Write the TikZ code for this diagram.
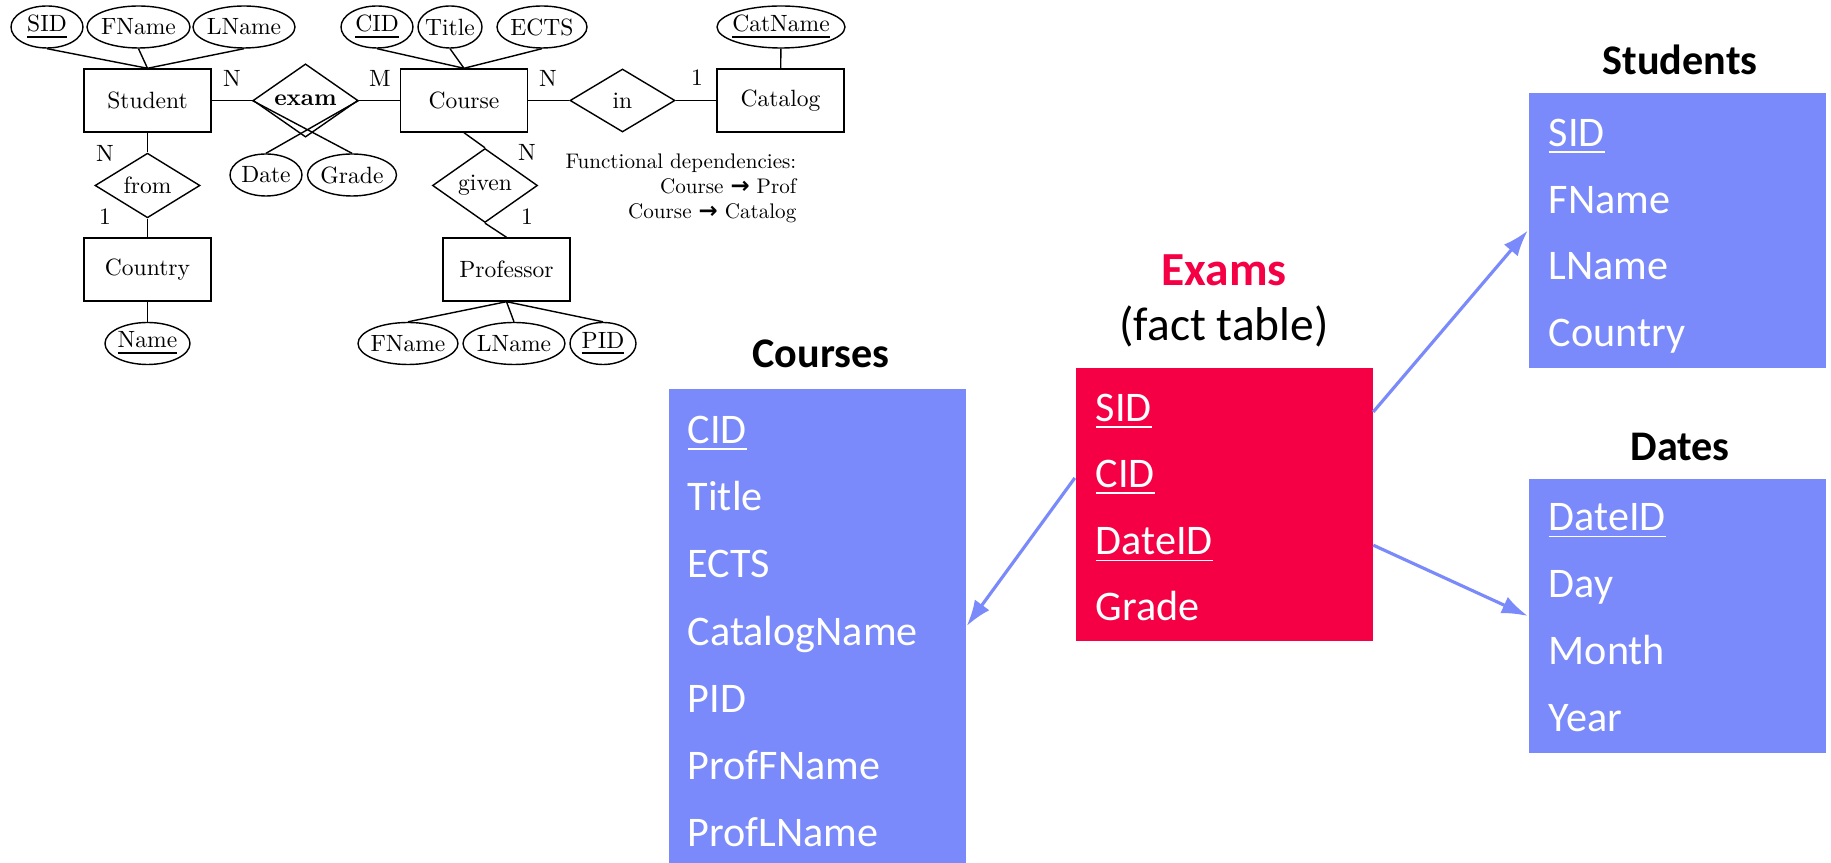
\documentclass[tikz,border=0pt]{standalone}
\usepackage{fontspec}
\usetikzlibrary{shapes.geometric,arrows.meta}
\setmainfont{lmroman10}[Extension=.otf, UprightFont=*-regular, BoldFont=*-bold, ItalicFont=*-italic]
\newfontfamily\carlito{Carlito}
\newfontfamily\dejavu{DejaVu Sans}
\definecolor{dimblue}{RGB}{122,138,250}
\definecolor{factred}{RGB}{245,0,68}
\newcommand{\fdarrow}{{\dejavu\bfseries\fontsize{6.5}{7}\selectfont →}}
\newcommand{\attrtext}[1]{\makebox[0pt]{#1}}
\tikzset{
  er/.style={font=\fontsize{6.7}{8}\selectfont},
  entity/.style={er, draw, rectangle, minimum width=12.7mm, minimum height=6.3mm, inner sep=0pt},
  relship/.style={er, draw, diamond, minimum width=10.5mm, minimum height=6.3mm, inner sep=0pt},
  attr/.style={er, draw, ellipse, minimum height=4.2mm, inner sep=0pt},
  card/.style={er, inner sep=0pt},
  tbl/.style={fill=dimblue, minimum width=29.7mm, inner sep=0pt},
  row/.style={anchor=base west, inner sep=0pt, text=white, font=\carlito\fontsize{12}{14}\selectfont},
  hdr/.style={anchor=base, inner sep=0pt, font=\carlito\bfseries\fontsize{12}{14}\selectfont},
  link/.style={dimblue, line width=0.9pt, -{Latex[length=2.6mm,width=1.8mm]}},
}
\begin{document}
\begin{tikzpicture}[x=0.1mm, y=-0.1mm, line width=0.4pt]
\useasboundingbox (0,0) rectangle (1831,863);
% E/R diagram
\node[entity] (student) at (147.5,100.5) {Student};
\node[relship] (exam) at (305.5,100.5) {\textbf{exam}};
\node[entity] (course) at (464,100.5) {Course};
\node[relship] (inrel) at (622.5,100.5) {in};
\node[entity] (catalog) at (780.5,100.5) {Catalog};
\node[relship] (fromrel) at (147.5,185.5) {from};
\node[entity] (country) at (147.5,269.5) {Country};
\node[relship] (given) at (485,185.5) {given};
\node[entity] (prof) at (506.5,269.5) {Professor};
\node[attr, minimum width=7.2mm] (atsid) at (47,27) {\attrtext{\underline{SID}}};
\node[attr, minimum width=10.3mm] (atsfn) at (138.5,27) {\attrtext{FName}};
\node[attr, minimum width=10.2mm] (atsln) at (244,27) {\attrtext{LName}};
\node[attr, minimum width=7.2mm] (atcid) at (377,27) {\attrtext{\underline{CID}}};
\node[attr, minimum width=6.4mm] (attitle) at (450,27) {\attrtext{Title}};
\node[attr, minimum width=9mm] (atects) at (542,27) {\attrtext{ECTS}};
\node[attr, minimum width=12.8mm] (atcat) at (781,27) {\attrtext{\underline{CatName}}};
\node[attr, minimum width=7.2mm] (atdate) at (266,175) {\attrtext{Date}};
\node[attr, minimum width=8.9mm] (atgrade) at (352,175) {\attrtext{Grade}};
\node[attr, minimum width=8.5mm] (atcname) at (147.5,343.5) {\attrtext{\underline{Name}}};
\node[attr, minimum width=10mm] (atpfn) at (408,343.5) {\attrtext{FName}};
\node[attr, minimum width=10.2mm] (atpln) at (514,343.5) {\attrtext{LName}};
\node[attr, minimum width=6.6mm] (atpid) at (603,343.5) {\attrtext{\underline{PID}}};
\node[card] (cardSE) at (232,78) {N};
\node[card] (cardCE) at (380,78) {M};
\node[card] (cardCI) at (548,78) {N};
\node[card] (cardKI) at (697,78) {1};
\node[card] (cardSF) at (105,153) {N};
\node[card] (cardKF) at (105,217) {1};
\node[card] (cardCG) at (527,152) {N};
\node[card] (cardPG) at (527,217) {1};
\draw (atsid.south) -- (student.north) (atsfn.south) -- (student.north) (atsln.south) -- (student.north);
\draw (atcid.south) -- (course.north) (attitle.south) -- (course.north) (atects.south) -- (course.north);
\draw (atcat) -- (catalog);
\draw (student) -- (exam) -- (course) -- (inrel) -- (catalog);
\draw (student) -- (fromrel) -- (country) -- (atcname);
\draw (course.south) -- (given.north) (given.south) -- (prof.north);
\draw (atdate.north) -- (exam.east) (atgrade.north) -- (exam.west);
\draw (prof.south) -- (atpfn.north) (prof.south) -- (atpln.north) (prof.south) -- (atpid.north);
\node[anchor=north east, inner sep=0pt, align=right, font=\fontsize{6}{7.1}\selectfont] (fd) at (797,153)
  {Functional dependencies:\\Course \fdarrow{} Prof\\Course \fdarrow{} Catalog};
% star schema
\node[tbl, minimum height=27.5mm] (students) at (1677,230.5) {};
\node[tbl, minimum height=27.4mm] (dates) at (1677,616) {};
\node[tbl, fill=factred, minimum height=27.3mm] (exams) at (1224,504.5) {};
\node[tbl, minimum height=47.4mm] (courses) at (817.5,626) {};
\node[hdr] (hstud) at (1680,75) {Students};
\node[hdr] (hdates) at (1680,461) {Dates};
\node[hdr] (hcourses) at (821,368) {Courses};
\node[hdr, text=factred, font=\carlito\bfseries\fontsize{13.5}{16}\selectfont] (hexams) at (1224,286) {Exams};
\node[hdr, font=\carlito\fontsize{13.5}{16}\selectfont] (hfact) at (1224,341) {(fact table)};
\node[row] (ssid) at (1548,147) {\underline{SID}};
\node[row] (sfn) at (1548,214) {FName};
\node[row] (sln) at (1548,280) {LName};
\node[row] (sctry) at (1548,347) {Country};
\node[row] (ddid) at (1548,531) {\underline{DateID}};
\node[row] (dday) at (1548,598) {Day};
\node[row] (dmon) at (1548,665) {Month};
\node[row] (dyear) at (1548,732) {Year};
\node[row] (exsid) at (1095,422) {\underline{SID}};
\node[row] (excid) at (1095,488) {\underline{CID}};
\node[row] (exdid) at (1095,555) {\underline{DateID}};
\node[row] (exgrade) at (1095,621) {Grade};
\node[row] (ccid) at (687,444) {\underline{CID}};
\node[row] (ctitle) at (687,511) {Title};
\node[row] (cects) at (687,578) {ECTS};
\node[row] (ccat) at (687,646) {CatalogName};
\node[row] (cpid) at (687,713) {PID};
\node[row] (cpfn) at (687,780) {ProfFName};
\node[row] (cpln) at (687,847) {ProfLName};
\draw[link] (exams.east |- exsid) -- (students.west);
\draw[link] (exams.west |- excid) -- (courses.east);
\draw[link] (exams.east |- exdid) -- (dates.west);
\end{tikzpicture}
\end{document}
